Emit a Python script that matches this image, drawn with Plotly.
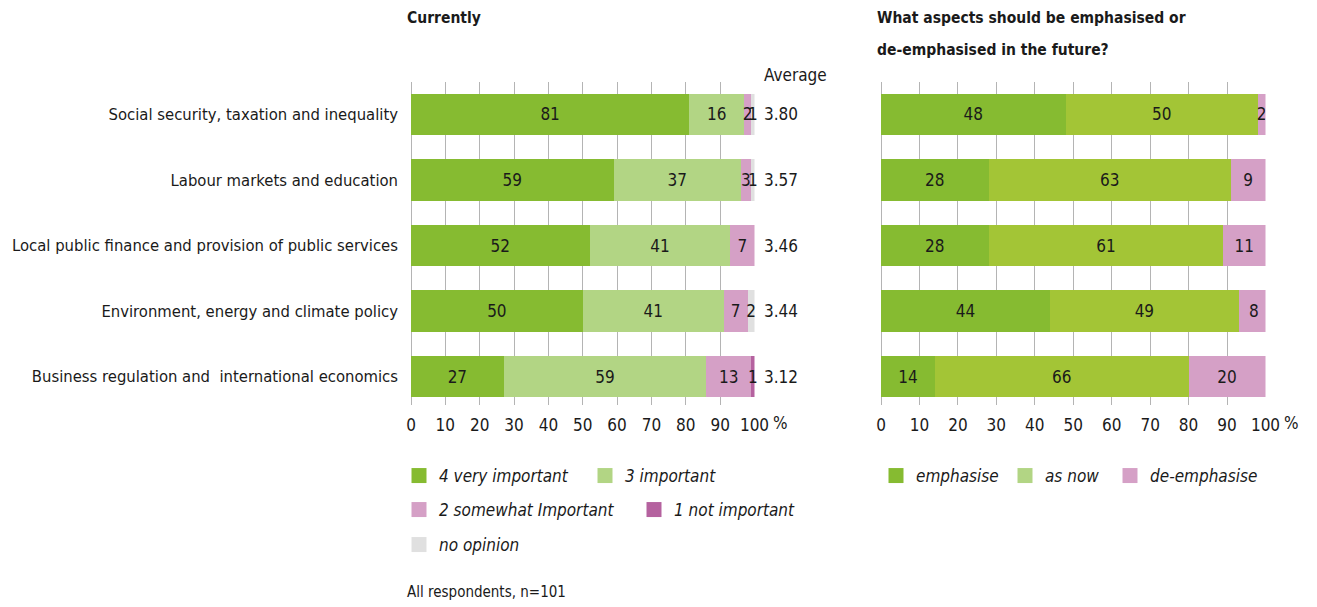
import plotly.graph_objects as go

categories = [
    "Social security, taxation and inequality",
    "Labour markets and education",
    "Local public finance and provision of public services",
    "Environment, energy and climate policy",
    "Business regulation and  international economics",
]
very_important = [81, 59, 52, 50, 27]
important = [16, 37, 41, 41, 59]
somewhat_important = [2, 3, 7, 7, 13]
not_important = [0, 0, 0, 0, 1]
no_opinion = [1, 1, 0, 2, 0]
averages = [3.80, 3.57, 3.46, 3.44, 3.12]

emphasise = [48, 28, 28, 44, 14]
as_now = [50, 63, 61, 49, 66]
de_emphasise = [2, 9, 11, 8, 20]

x_ticks = [0, 10, 20, 30, 40, 50, 60, 70, 80, 90, 100]

FONT = "DejaVu Sans Condensed, Liberation Sans Narrow, sans-serif"
TXT = "#1a1a1a"
C_DARK = "#86bb31"
C_LIGHT = "#b2d584"
C_ASNOW = "#a3c536"
C_PINK = "#d5a0c6"
C_PURPLE = "#b5629f"
C_GREY = "#e0e0e0"
GRID = "#b4b4b4"

W, H = 1317, 607
OX, OY = 8, 8  # page offset of the plot div
FS = 17


def px(x):
    return (x - OX) / W


def py(y):
    return 1 - (y - OY) / H


def lbl(vals):
    return [str(v) if v else "" for v in vals]


fig = go.Figure()

left_series = [
    ("4 very important", very_important, C_DARK, "legend", 141),
    ("3 important", important, C_LIGHT, "legend", None),
    ("2 somewhat Important", somewhat_important, C_PINK, "legend2", 190),
    ("1 not important", not_important, C_PURPLE, "legend2", None),
    ("no opinion", no_opinion, C_GREY, "legend3", None),
]
right_series = [
    ("emphasise", emphasise, C_DARK, C_DARK, 84),
    ("as now", as_now, C_ASNOW, C_LIGHT, 60),
    ("de-emphasise", de_emphasise, C_PINK, C_PINK, None),
]

for name, vals, col, leg, lw in left_series:
    fig.add_trace(go.Bar(
        y=categories, x=vals, orientation="h", name=name,
        marker=dict(color=col, line=dict(width=0)),
        text=lbl(vals), textposition="inside", insidetextanchor="middle",
        textangle=0, constraintext="none", cliponaxis=False,
        textfont=dict(family=FONT, size=FS, color=TXT),
        showlegend=False, hoverinfo="skip", xaxis="x", yaxis="y",
    ))

for name, vals, col, lcol, lw in right_series:
    fig.add_trace(go.Bar(
        y=categories, x=vals, orientation="h", name=name,
        marker=dict(color=col, line=dict(width=0)),
        text=lbl(vals), textposition="inside", insidetextanchor="middle",
        textangle=0, constraintext="none", cliponaxis=True,
        textfont=dict(family=FONT, size=FS, color=TXT),
        showlegend=False, hoverinfo="skip", xaxis="x2", yaxis="y2",
    ))

# legend entries (square swatches)
legend_items = [(n, c, lg, lw, "x", "y") for n, _, c, lg, lw in left_series] + \
               [(n, lc, "legend4", lw, "x2", "y2") for n, _, _, lc, lw in right_series]
for name, col, leg, lw, xa, ya in legend_items:
    fig.add_trace(go.Scatter(
        x=[None], y=[None], mode="markers", name=name,
        marker=dict(symbol="square", size=15, color=col, line=dict(width=0)),
        legend=leg, legendwidth=lw, hoverinfo="skip", xaxis=xa, yaxis=ya,
    ))

y_top = py(82)
y_bot = py(405)
yrange = [4.435, -0.496]

xaxis_common = dict(
    range=[0, 100], tickvals=x_ticks, showgrid=True, gridcolor=GRID, gridwidth=1.3,
    zeroline=True, zerolinecolor=GRID, zerolinewidth=1.3, showline=False, ticks="",
    tickfont=dict(family=FONT, size=FS, color=TXT), ticklabelstandoff=8,
    fixedrange=True, automargin=False,
)

annotations = []
for i, (cat, av) in enumerate(zip(categories, averages)):
    annotations.append(dict(
        x=100, y=cat, xref="x", yref="y", text=f"{av:.2f}", showarrow=False,
        xanchor="left", yanchor="middle", xshift=7,
        font=dict(family=FONT, size=FS, color=TXT),
    ))
annotations.append(dict(
    x=100, y=py(75), xref="x", yref="paper", text="Average", showarrow=False,
    xanchor="left", yanchor="middle", xshift=7, font=dict(family=FONT, size=FS, color=TXT),
))
for ax in ["x", "x2"]:
    annotations.append(dict(
        x=100, y=py(423), xref=ax, yref="paper", text="%", showarrow=False,
        xanchor="left", yanchor="middle", xshift=16,
        font=dict(family=FONT, size=FS, color=TXT),
    ))
annotations += [
    dict(x=px(405), y=py(18), xref="paper", yref="paper", text="<b>Currently</b>",
         showarrow=False, xanchor="left", yanchor="middle",
         font=dict(family=FONT, size=15.5, color=TXT)),
    dict(x=px(875), y=py(18), xref="paper", yref="paper",
         text="<b>What aspects should be emphasised or</b>",
         showarrow=False, xanchor="left", yanchor="middle",
         font=dict(family=FONT, size=15.5, color=TXT)),
    dict(x=px(875), y=py(50), xref="paper", yref="paper",
         text="<b>de-emphasised in the future?</b>",
         showarrow=False, xanchor="left", yanchor="middle",
         font=dict(family=FONT, size=15.5, color=TXT)),
    dict(x=px(405), y=py(592), xref="paper", yref="paper", text="All respondents, n=101",
         showarrow=False, xanchor="left", yanchor="middle",
         font=dict(family=FONT, size=15, color=TXT)),
]

legend_common = dict(
    orientation="h", xanchor="left", yanchor="middle", bgcolor="rgba(0,0,0,0)",
    font=dict(family=FONT, size=FS, color=TXT, style="italic"),
    itemclick=False, itemdoubleclick=False, traceorder="normal",
)

fig.update_layout(
    template="none",
    width=W, height=H, margin=dict(l=0, r=0, t=0, b=0, autoexpand=False),
    paper_bgcolor="white", plot_bgcolor="white",
    barmode="stack", bargap=0.365,
    font=dict(family=FONT, size=FS, color=TXT),
    uniformtext=dict(minsize=FS, mode="show"),
    xaxis=dict(domain=[px(411), px(754.5)], anchor="y", **xaxis_common),
    yaxis=dict(domain=[y_bot, y_top], range=yrange, anchor="x", showgrid=False,
               zeroline=False, ticks="", ticklabelstandoff=12, automargin=False,
               tickfont=dict(family=FONT, size=16.5, color=TXT), fixedrange=True),
    xaxis2=dict(domain=[px(881), px(1265.5)], anchor="y2", **xaxis_common),
    yaxis2=dict(domain=[y_bot, y_top], range=yrange, anchor="x2", showgrid=False,
                zeroline=False, showticklabels=False, ticks="", fixedrange=True,
                automargin=False),
    legend=dict(x=px(399), y=py(476), **legend_common),
    legend2=dict(x=px(399), y=py(510), **legend_common),
    legend3=dict(x=px(399), y=py(545), **legend_common),
    legend4=dict(x=px(876), y=py(476), **legend_common),
    annotations=annotations,
    showlegend=True,
)

fig.write_html("out.html")
